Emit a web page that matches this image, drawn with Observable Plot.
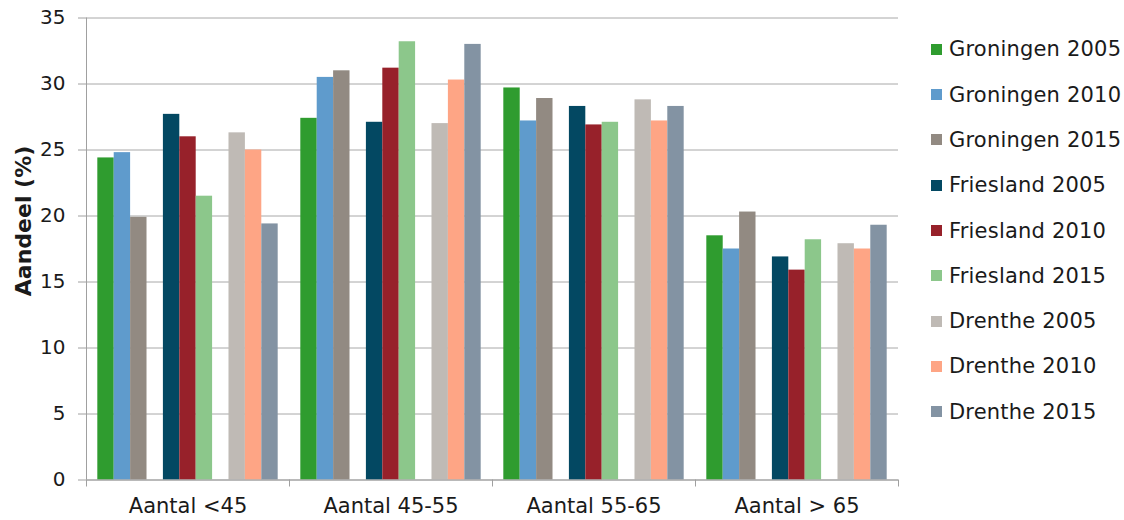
<!DOCTYPE html>
<html>
<head>
<meta charset="utf-8">
<script src="https://cdn.jsdelivr.net/npm/d3@7"></script>
<script src="https://cdn.jsdelivr.net/npm/@observablehq/plot@0.6"></script>
<style>
  html, body { margin: 0; padding: 0; background: #fff; }
  #wrap { position: relative; width: 1124px; height: 520px; overflow: hidden; font-family: "DejaVu Sans", Verdana, sans-serif; }
  #chart { position: absolute; left: 0; top: 0; }
  #legend { position: absolute; left: 931px; top: 0; }
  .row { position: absolute; left: 0; display: flex; align-items: center; white-space: nowrap; font-size: 21px; letter-spacing: 0.2px; color: #1a1a1a; height: 24px; }
  .sw { width: 11px; height: 11px; margin-right: 7px; flex: none; }
</style>
</head>
<body>
<div id="wrap"><div id="chart"></div><div id="legend"></div></div>
<script>
// ---- data ----
const categories = ["Aantal <45", "Aantal 45-55", "Aantal 55-65", "Aantal > 65"];
const series = ["Groningen 2005", "Groningen 2010", "Groningen 2015",
                "Friesland 2005", "Friesland 2010", "Friesland 2015",
                "Drenthe 2005", "Drenthe 2010", "Drenthe 2015"];
const colors = ["#2f9c2f", "#5f9bcc", "#928a82",
                "#034862", "#97212a", "#8cc78b",
                "#bfbab5", "#fea585", "#8393a3"];
const groningen2005 = [24.4, 27.4, 29.7, 18.5];
const groningen2010 = [24.8, 30.5, 27.2, 17.5];
const groningen2015 = [19.9, 31.0, 28.9, 20.3];
const friesland2005 = [27.7, 27.1, 28.3, 16.9];
const friesland2010 = [26.0, 31.2, 26.9, 15.9];
const friesland2015 = [21.5, 33.2, 27.1, 18.2];
const drenthe2005   = [26.3, 27.0, 28.8, 17.9];
const drenthe2010   = [25.0, 30.3, 27.2, 17.5];
const drenthe2015   = [19.4, 33.0, 28.3, 19.3];
const yTicks = [0, 5, 10, 15, 20, 25, 30, 35];

const seriesValues = [groningen2005, groningen2010, groningen2015,
                      friesland2005, friesland2010, friesland2015,
                      drenthe2005, drenthe2010, drenthe2015];

// layout of slots inside a category band: 3 bars, gap, 3 bars, gap, 3 bars
const PAD = 0.69;           // outer padding in slot units
const W = 11 + 2 * PAD;     // width of a category band in slot units

const rows = [];
categories.forEach((cat, c) => {
  series.forEach((s, j) => {
    const slot = j + Math.floor(j / 3);
    rows.push({cat, series: s, value: seriesValues[j][c], c, slot});
  });
});

const boundaries = categories.map((_, i) => i * W).concat([categories.length * W]);
const centers = categories.map((_, i) => (i + 0.5) * W);

const chart = Plot.plot({
  width: 900,
  height: 520,
  marginLeft: 86,
  marginRight: 2,
  marginTop: 17.5,
  marginBottom: 40.5,
  style: {fontFamily: "DejaVu Sans, Verdana, sans-serif", color: "#1a1a1a", background: "#fff"},
  x: {domain: [0, categories.length * W]},
  y: {domain: [0, 35]},
  color: {domain: series, range: colors},
  marks: [
    Plot.gridY(yTicks, {stroke: "#a8a8a8", strokeOpacity: 1}),
    Plot.rectY(rows, {
      x1: d => d.c * W + PAD + d.slot,
      x2: d => d.c * W + PAD + d.slot + 1,
      y: "value",
      fill: "series"
    }),
    Plot.ruleX([0], {stroke: "#a0a0a0"}),
    Plot.ruleY([0], {stroke: "#a0a0a0"}),
    Plot.axisY({ticks: yTicks, tickSize: 8, tickPadding: 13, fontSize: 20, label: null, stroke: "#a0a0a0", fill: "#1a1a1a"}),
    Plot.axisX({ticks: boundaries, tickSize: 7, tickFormat: () => "", label: null, stroke: "#a0a0a0"}),
    Plot.axisX({ticks: centers, tickSize: 0, tickPadding: 18, fontSize: 21, label: null, fill: "#1a1a1a",
                style: {letterSpacing: "0.2px"},
                tickFormat: d => categories[Math.floor(d / W)]}),
    Plot.text(["Aandeel (%)"], {
      frameAnchor: "left", rotate: -90, dx: -63, dy: -28,
      fontSize: 22, fontWeight: "bold", fill: "#1a1a1a", textAnchor: "middle", lineAnchor: "middle"
    })
  ]
});
document.getElementById("chart").appendChild(chart);

// legend
const legend = document.getElementById("legend");
series.forEach((s, i) => {
  const row = document.createElement("div");
  row.className = "row";
  row.style.top = (49.3 + i * 45.3 - 12) + "px";
  const sw = document.createElement("span");
  sw.className = "sw";
  sw.style.background = colors[i];
  const t = document.createElement("span");
  t.textContent = s;
  row.appendChild(sw);
  row.appendChild(t);
  legend.appendChild(row);
});
</script>
</body>
</html>
